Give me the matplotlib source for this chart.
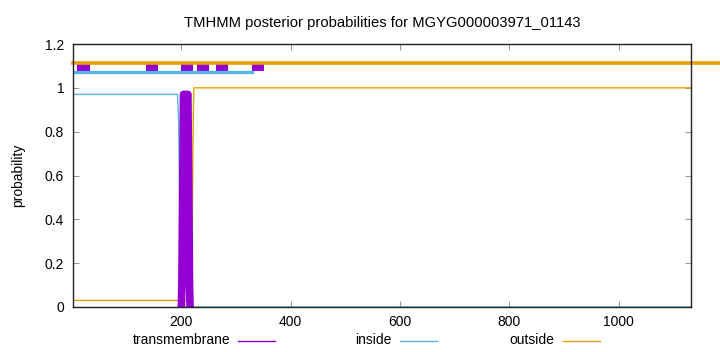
import matplotlib
matplotlib.use("Agg")
import matplotlib.pyplot as plt
from matplotlib.lines import Line2D

plt.rcParams['font.family'] = ['Liberation Sans', 'DejaVu Sans']

title = "TMHMM posterior probabilities for MGYG000003971_01143"
seq_len = 1132

# posterior curves (position, probability)
tm_x = [200, 201, 203, 204, 212, 213, 215, 216]
tm_y = [0.0, 0.1, 0.7, 0.97, 0.97, 0.7, 0.1, 0.0]
inside_x = [1, 193, 195, 197, 199, 201, seq_len]
inside_y = [0.97, 0.97, 0.85, 0.45, 0.1, 0.0, 0.0]
outside_x = [1, 216, 218, 220, 222, 223, seq_len]
outside_y = [0.03, 0.03, 0.05, 0.4, 0.9, 1.0, 1.0]

# predicted topology lines at top
outside_top = (1, 1250)
inside_top = (1, 329)
tm_boxes = [(10, 33), (136, 157), (200, 221), (229, 250), (263, 285), (329, 351)]

c_tm = "#9400d3"
c_in = "#56b4e9"
c_out = "#e69f00"

fig = plt.figure(figsize=(7.2, 3.52), dpi=100)
ax = fig.add_axes([72.5/720, 1-307/352, (691-72.5)/720, (307-44)/352])

ax.plot(inside_x, inside_y, color=c_in, lw=1.0)
ax.plot(outside_x, outside_y, color=c_out, lw=1.0)
ax.plot(tm_x, tm_y, color=c_tm, lw=5.5, solid_capstyle="round", solid_joinstyle="round")

ax.plot(outside_top, [1.113, 1.113], color=c_out, lw=2.6, clip_on=False)
ax.plot(inside_top, [1.072, 1.072], color=c_in, lw=2.4)
for a, b in tm_boxes:
    ax.fill_between([a, b], 1.077, 1.111, color=c_tm, lw=0)

ax.set_xlim(1, seq_len)
ax.set_ylim(0, 1.2)
ax.set_xticks([200, 400, 600, 800, 1000])
ax.set_yticks([0, 0.2, 0.4, 0.6, 0.8, 1.0, 1.2])
ax.set_yticklabels(["0", "0.2", "0.4", "0.6", "0.8", "1", "1.2"])
ax.tick_params(direction="in", top=True, right=True, labelsize=10, length=4,
               color="#999999", pad=6)
for s in ax.spines.values():
    s.set_linewidth(1.0)
    s.set_color("#222222")
ax.set_ylabel("probability", fontsize=10, labelpad=14)
ax.set_title(title, fontsize=10.6, pad=12)

# legend at bottom
fig.text(230/720, 1-340/352, "transmembrane", ha="right", va="center", fontsize=10)
fig.add_artist(Line2D([238/720, 275/720], [1-341/352]*2, color=c_tm, lw=1.0))
fig.text(392/720, 1-340/352, "inside", ha="right", va="center", fontsize=10)
fig.add_artist(Line2D([400/720, 437/720], [1-341/352]*2, color=c_in, lw=1.0))
fig.text(554/720, 1-340/352, "outside", ha="right", va="center", fontsize=10)
fig.add_artist(Line2D([563/720, 600/720], [1-341/352]*2, color=c_out, lw=1.0))

fig.savefig("out.png", dpi=100)
